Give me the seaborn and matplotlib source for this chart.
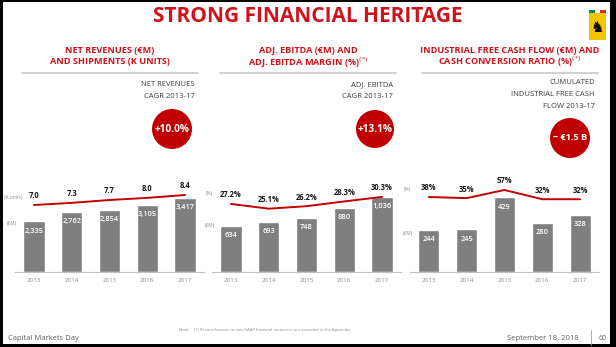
import matplotlib
matplotlib.use("Agg")
import matplotlib.pyplot as plt
import seaborn as sns
import pandas as pd
from matplotlib.patches import Rectangle, Ellipse

sns.set_theme(style="white")
FONT = ["Liberation Sans Narrow", "Open Sans", "DejaVu Sans"]
plt.rcParams["font.family"] = FONT

years = ["2013", "2014", "2015", "2016", "2017"]
revenues = [2335, 2762, 2854, 3105, 3417]
shipments = [7.0, 7.3, 7.7, 8.0, 8.4]
ebitda = [634, 693, 748, 880, 1036]
ebitda_margin = [27.2, 25.1, 26.2, 28.3, 30.3]
fcf = [244, 245, 429, 280, 328]
cash_conv = [38, 35, 57, 32, 32]

bar_labels = [[f"{v:,}" for v in revenues], [f"{v:,}" for v in ebitda], [f"{v}" for v in fcf]]
line_labels = [[f"{v:.1f}" for v in shipments], [f"{v:.1f}%" for v in ebitda_margin], [f"{v}%" for v in cash_conv]]

W, H = 616, 347
fig = plt.figure(figsize=(W / 100, H / 100), dpi=100)
fig.patch.set_facecolor("white")

RED = "#D0121B"
LINE_RED = "#C00000"
BAR = "#7F7F7F"
DARK = "#3C3C3C"

def fx(x):
    return x / W

def fy(y):
    return 1 - y / H

def ftext(x, y, s, **kw):
    return fig.text(fx(x), fy(y), s, **kw)

# Title
ftext(308, 17, "STRONG FINANCIAL HERITAGE", ha="center", va="center",
      fontsize=15, fontweight="bold", color=RED)

panels = [
    dict(left=15.1, right=203.9, bars=revenues, line=shipments, bl=bar_labels[0], ll=line_labels[0],
         ylim=4710, y2=(-2.38, 11.9),
         sub=["NET REVENUES (€M)", "AND SHIPMENTS (K UNITS)"], star=False, cx=110,
         hdr=["NET REVENUES", "CAGR 2013-17"], hdr_x=195, hdr_y=85,
         circ=(172, 129, 20, "+10.0%", 7.3),
         ulab=[(4, 197, "(K units)"), (7, 224, "(€M)")]),
    dict(left=212.1, right=400.9, bars=ebitda, line=ebitda_margin, bl=bar_labels[1], ll=line_labels[1],
         ylim=1407, y2=(-2.9, 42.2),
         sub=["ADJ. EBITDA (€M) AND", "ADJ. EBITDA MARGIN (%)"], star=True, cx=308,
         hdr=["ADJ. EBITDA", "CAGR 2013-17"], hdr_x=393, hdr_y=85,
         circ=(375, 129, 19, "+13.1%", 7.3),
         ulab=[(206, 194, "(%)"), (205, 226, "(€M)")]),
    dict(left=410.0, right=599.0, bars=fcf, line=cash_conv, bl=bar_labels[2], ll=line_labels[2],
         ylim=586, y2=(-164.7, 111.0),
         sub=["INDUSTRIAL FREE CASH FLOW (€M) AND", "CASH CONVERSION RATIO (%)"], star=True, cx=510,
         hdr=["CUMULATED", "INDUSTRIAL FREE CASH", "FLOW 2013-17"], hdr_x=595, hdr_y=83,
         circ=(570, 138, 20, "~ €1.5 B", 6.6),
         ulab=[(404, 189, "(%)"), (403, 234, "(€M)")]),
]

ax_top, ax_bot = 170, 272

for p in panels:
    ax = fig.add_axes([fx(p["left"]), fy(ax_bot), fx(p["right"] - p["left"]), (ax_bot - ax_top) / H])
    df = pd.DataFrame({"year": years, "val": p["bars"], "line": p["line"], "pos": range(len(years))})
    sns.barplot(data=df, x="year", y="val", color=BAR, width=0.56, saturation=1, ax=ax)
    ax.set_xlim(-0.5, 4.5)
    ax.set_ylim(0, p["ylim"])
    ax.set_xlabel("")
    ax.set_ylabel("")
    ax.set_yticks([])
    for s in ["top", "left", "right"]:
        ax.spines[s].set_visible(False)
    ax.spines["bottom"].set_color("#BFBFBF")
    ax.spines["bottom"].set_linewidth(0.8)
    ax.tick_params(axis="x", length=0, labelsize=4.5, labelcolor="#8C8C8C", pad=4)
    ax.patch.set_alpha(0)
    for i, (v, lab) in enumerate(zip(p["bars"], p["bl"])):
        ax.annotate(lab, (i, v), xytext=(0, -7), textcoords="offset points",
                    ha="center", va="center", fontsize=5.3, color="white", fontweight="semibold")

    ax2 = ax.twinx()
    sns.lineplot(data=df, x="pos", y="line", color=LINE_RED, linewidth=1.4, ax=ax2)
    ax2.set_ylim(*p["y2"])
    ax2.set_xlim(-0.5, 4.5)
    ax2.set_yticks([])
    ax2.set_xlabel("")
    ax2.set_ylabel("")
    for s in ax2.spines.values():
        s.set_visible(False)
    for i, (v, lab) in enumerate(zip(p["line"], p["ll"])):
        ax2.annotate(lab, (i, v), xytext=(0, 6.5), textcoords="offset points",
                     ha="center", va="center", fontsize=5.5, color="#1A1A1A", fontweight="bold")

    # subtitles
    sub1, sub2 = p["sub"]
    ftext(p["cx"], 50.5, sub1, ha="center", va="center", fontsize=6.6, fontweight="bold", color=RED)
    ftext(p["cx"], 62, sub2 + (r"$^{(*)}$" if p["star"] else ""), ha="center", va="center",
          fontsize=6.6, fontweight="bold", color=RED)
    # divider
    fig.add_artist(plt.Line2D([fx(p["cx"] - 88), fx(p["cx"] + 88)], [fy(73), fy(73)],
                              color="#C8C8C8", linewidth=1.2))
    # header text
    for k, h in enumerate(p["hdr"]):
        ftext(p["hdr_x"], p["hdr_y"] + k * 11.5, h, ha="right", va="center", fontsize=5.5, color=DARK)
    # circle
    cx, cy, r, ct, cfs = p["circ"]
    fig.add_artist(Ellipse((fx(cx), fy(cy)), 2 * r / W, 2 * r / H, transform=fig.transFigure,
                           facecolor="#C00000", edgecolor="none"))
    ftext(cx, cy, ct, ha="center", va="center", fontsize=cfs, fontweight="bold", color="white")
    # unit labels
    for (ux, uy, us) in p["ulab"]:
        ftext(ux, uy, us, ha="left", va="center", fontsize=3.5, color="#8C8C8C")

# Ferrari badge
fig.add_artist(Rectangle((fx(589), fy(40)), fx(17), 30 / H, transform=fig.transFigure,
                         facecolor="#F5C400", edgecolor="none"))
for k, c in enumerate(["#009246", "white", "#CE2B37"]):
    fig.add_artist(Rectangle((fx(589 + k * 17 / 3), fy(13)), fx(17 / 3), 2.5 / H, transform=fig.transFigure,
                             facecolor=c, edgecolor="none"))
fig.text(fx(597.5), fy(27), "\u265E", ha="center", va="center", fontsize=11, color="black",
         family=["DejaVu Sans"])

# Footer
ftext(8, 338, "Capital Markets Day", ha="left", va="center", fontsize=5.5, color="#606060")
ftext(265, 330, "Note:    (*) Reconciliations to non-GAAP financial measures are provided in the Appendix",
      ha="center", va="center", fontsize=3, color="#8C8C8C")
ftext(579, 338, "September 18, 2018", ha="right", va="center", fontsize=5.5, color="#606060")
fig.add_artist(plt.Line2D([fx(591), fx(591)], [fy(330), fy(345)], color="#A0A0A0", linewidth=0.6))
ftext(603, 338, "60", ha="center", va="center", fontsize=5, color="#606060")

# black frame
for (x0, y0, w, h) in [(0, 0, 3, H), (0, 0, W, 2), (610, 0, 6, H), (0, H - 3, W, 3)]:
    fig.add_artist(Rectangle((fx(x0), fy(y0 + h)), fx(w), h / H, transform=fig.transFigure,
                             facecolor="black", edgecolor="none"))

fig.savefig("out.png", dpi=100)
